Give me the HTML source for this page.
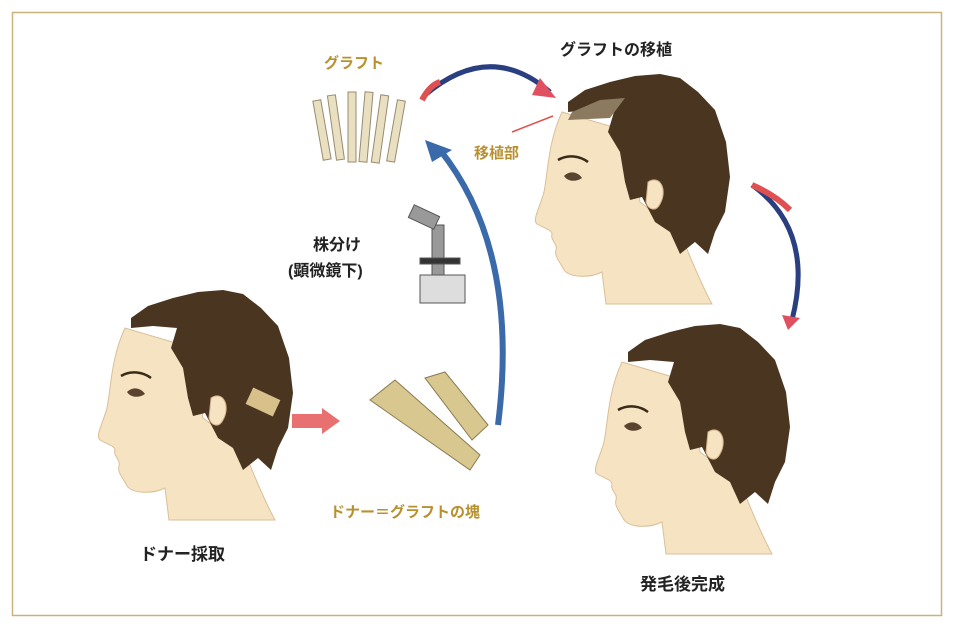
<!DOCTYPE html>
<html><head><meta charset="utf-8"><style>
body{margin:0;background:#fff;}
svg{display:block}
text{font-family:"Liberation Sans","Noto Sans CJK JP",sans-serif;font-weight:bold}
</style></head><body>
<svg width="953" height="628" viewBox="0 0 953 628" xmlns="http://www.w3.org/2000/svg">
<rect x="12.5" y="12.5" width="929" height="603" fill="#fff" stroke="#c9b37a" stroke-width="1.5"/>
<defs>
<g id="head">
<path d="M32,40 C18,70 18,100 14,120 C10,135 2,148 7,152 C14,156 22,158 22,162 C20,168 28,172 26,178 C24,184 30,190 34,198 C40,206 60,206 72,200 L76,232 L182,232 C170,210 158,180 150,160 L110,130 L100,60 Z" fill="#f6e3c2" stroke="#d9bf98" stroke-width="1"/>
<path d="M38,30 L55,18 L80,10 L105,4 L130,2 L150,6 L168,20 L185,38 L196,70 L200,105 L195,140 L185,160 L178,182 L165,170 L150,182 L140,160 L125,150 L112,125 L100,128 L95,110 L90,80 L78,60 L84,40 L60,38 L38,40 Z" fill="#4a3520"/>
<path d="M118,110 C130,102 138,118 130,132 C126,140 118,138 116,130 Z" fill="#f6e3c2" stroke="#cfae86"/>
<path d="M28,88 C38,82 50,84 58,90" stroke="#3a2a18" stroke-width="2.5" fill="none"/>
<path d="M34,104 C40,98 48,100 52,106 C46,110 38,110 34,104 Z" fill="#5a4430"/>
</g>
</defs>
<!-- head 1 -->
<use href="#head" transform="translate(93,288)"/>
<rect x="248" y="393" width="30" height="18" fill="#d8c08a" transform="rotate(25 263 402)"/>
<!-- head 2 -->
<use href="#head" transform="translate(530,72)"/>
<path d="M572,112 L600,100 L625,98 L610,118 L568,120 Z" fill="#8c7a60"/>
<!-- head 3 -->
<use href="#head" transform="translate(590,322)"/>
<!-- grafts -->
<g stroke="#9a8a70" stroke-width="1" fill="#e8e0c0">
<rect x="318" y="100" width="8" height="60" transform="rotate(-10 322 130)"/>
<rect x="332" y="95" width="8" height="65" transform="rotate(-8 336 128)"/>
<rect x="348" y="92" width="8" height="70"/>
<rect x="362" y="92" width="8" height="70" transform="rotate(5 366 127)"/>
<rect x="376" y="95" width="8" height="68" transform="rotate(8 380 129)"/>
<rect x="392" y="100" width="8" height="62" transform="rotate(10 396 131)"/>
</g>
<!-- microscope -->
<g fill="#999" stroke="#555">
<rect x="420" y="275" width="45" height="28" fill="#ddd"/>
<rect x="432" y="225" width="12" height="50"/>
<rect x="410" y="210" width="28" height="14" transform="rotate(25 424 217)"/>
<rect x="420" y="258" width="40" height="6" fill="#333"/>
</g>
<!-- donor strip -->
<path d="M370,400 L395,380 L480,455 L470,470 Z" fill="#d8c890" stroke="#8a7a50"/>
<path d="M425,378 L445,372 L488,425 L472,440 Z" fill="#d8c890" stroke="#8a7a50"/>
<!-- arrows -->
<path d="M425,95 Q490,40 550,92" stroke="#2a3f80" stroke-width="5" fill="none"/>
<path d="M422,100 Q430,85 440,82" stroke="#e05050" stroke-width="6" fill="none"/>
<polygon points="540,78 556,98 532,95" fill="#e05060"/>
<path d="M498,425 Q520,250 440,150" stroke="#3a6aaa" stroke-width="6" fill="none"/>
<polygon points="425,140 452,150 432,162" fill="#3a6aaa"/>
<path d="M752,185 Q815,230 792,320" stroke="#2a3f80" stroke-width="5" fill="none"/>
<path d="M752,185 Q775,195 790,210" stroke="#e05050" stroke-width="6" fill="none"/>
<polygon points="782,315 800,318 788,330" fill="#e05060"/>
<polygon points="292,414 322,414 322,408 340,421 322,434 322,428 292,428" fill="#e87070"/>
<line x1="512" y1="132" x2="553" y2="116" stroke="#e05050" stroke-width="1.5"/>
<!-- labels -->
<text x="324" y="68" font-size="15" fill="#b8912e">グラフト</text>
<text x="560" y="55" font-size="16" fill="#222">グラフトの移植</text>
<text x="474" y="158" font-size="15" fill="#b8912e">移植部</text>
<text x="313" y="250" font-size="16" fill="#222">株分け</text>
<text x="288" y="276" font-size="16" fill="#222">(顕微鏡下)</text>
<text x="330" y="517" font-size="15" fill="#b8912e">ドナー＝グラフトの塊</text>
<text x="140" y="560" font-size="17" fill="#222">ドナー採取</text>
<text x="640" y="590" font-size="17" fill="#222">発毛後完成</text>
</svg>
</body></html>
